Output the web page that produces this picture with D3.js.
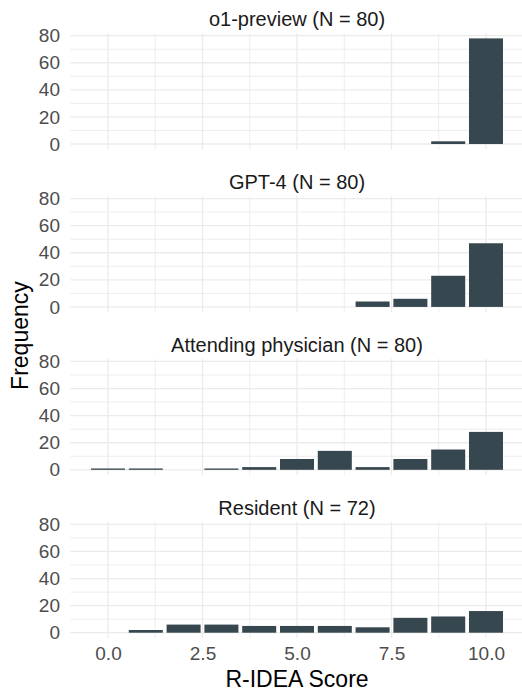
<!DOCTYPE html>
<html>
<head>
<meta charset="utf-8">
<script src="https://cdn.jsdelivr.net/npm/d3@7"></script>
<style>
  body { margin: 0; background: #fff; }
  text { font-family: "Liberation Sans", Arial, Helvetica, sans-serif; }
</style>
</head>
<body>
<div id="chart"></div>
<script>
// DATA
var scores = [0, 1, 2, 3, 4, 5, 6, 7, 8, 9, 10];
var panelTitles = ["o1-preview (N = 80)", "GPT-4 (N = 80)", "Attending physician (N = 80)", "Resident (N = 72)"];
var o1Counts = [0, 0, 0, 0, 0, 0, 0, 0, 0, 2, 78];
var gpt4Counts = [0, 0, 0, 0, 0, 0, 0, 4, 6, 23, 47];
var attendingCounts = [1, 1, 0, 1, 2, 8, 14, 2, 8, 15, 28];
var residentCounts = [0, 2, 6, 6, 5, 5, 5, 4, 11, 12, 16];
var xTicks = [0, 2.5, 5, 7.5, 10];
var xMinor = [1.25, 3.75, 6.25, 8.75];
var yTicks = [0, 20, 40, 60, 80];
var yMinor = [10, 30, 50, 70];

var allCounts = [o1Counts, gpt4Counts, attendingCounts, residentCounts];

// LAYOUT
var w = 522;
var h = 692;
var panelLeft = 70.4;
var panelRight = 523.6;
var firstTop = 33.1;
var panelH = 116.2;
var panelStep = 162.9;
var barColor = "#37474F";
var gridColor = "#EBEBEB";

var svg = d3.select("#chart").append("svg").attr("width", w).attr("height", h);

// SCALES (ggplot style: bar width 0.9, 5% expansion)
var xMin = -0.45, xMax = 10.45;
var xPad = (xMax - xMin) * 0.05;
var xScale = d3.scaleLinear()
  .domain([xMin - xPad, xMax + xPad])
  .range([panelLeft, panelRight]);

var yMax = d3.max(allCounts, function (c) { return d3.max(c); });
var yPad = yMax * 0.05;

allCounts.forEach(function (counts, i) {
  var top = firstTop + i * panelStep;
  var yScale = d3.scaleLinear()
    .domain([-yPad, yMax + yPad])
    .range([top + panelH, top]);

  var g = svg.append("g");

  // minor grid
  g.selectAll(".ymin").data(yMinor).enter().append("line")
    .attr("x1", panelLeft).attr("x2", panelRight)
    .attr("y1", function (d) { return yScale(d); })
    .attr("y2", function (d) { return yScale(d); })
    .attr("stroke", gridColor).attr("stroke-width", 0.9);
  g.selectAll(".xmin").data(xMinor).enter().append("line")
    .attr("y1", top).attr("y2", top + panelH)
    .attr("x1", function (d) { return xScale(d); })
    .attr("x2", function (d) { return xScale(d); })
    .attr("stroke", gridColor).attr("stroke-width", 0.9);

  // major grid
  g.selectAll(".ymaj").data(yTicks).enter().append("line")
    .attr("x1", panelLeft).attr("x2", panelRight)
    .attr("y1", function (d) { return yScale(d); })
    .attr("y2", function (d) { return yScale(d); })
    .attr("stroke", gridColor).attr("stroke-width", 1.3);
  g.selectAll(".xmaj").data(xTicks).enter().append("line")
    .attr("y1", top).attr("y2", top + panelH)
    .attr("x1", function (d) { return xScale(d); })
    .attr("x2", function (d) { return xScale(d); })
    .attr("stroke", gridColor).attr("stroke-width", 1.3);

  // bars
  var bars = scores.map(function (s, j) { return { score: s, n: counts[j] }; })
    .filter(function (d) { return d.n > 0; });
  g.selectAll("rect").data(bars).enter().append("rect")
    .attr("x", function (d) { return xScale(d.score - 0.45); })
    .attr("width", function (d) { return xScale(d.score + 0.45) - xScale(d.score - 0.45); })
    .attr("y", function (d) { return yScale(d.n); })
    .attr("height", function (d) { return yScale(0) - yScale(d.n); })
    .attr("fill", barColor);

  // y axis labels
  var yAxis = d3.axisLeft(yScale).tickValues(yTicks).tickSize(0).tickPadding(0);
  var ya = g.append("g")
    .attr("transform", "translate(" + 60 + ",0)")
    .call(yAxis);
  ya.select(".domain").remove();
  ya.selectAll("text")
    .attr("font-size", "19px")
    .attr("font-family", "'Liberation Sans', Arial, sans-serif")
    .attr("fill", "#4D4D4D");

  // strip title
  g.append("text")
    .attr("x", (panelLeft + panelRight) / 2)
    .attr("y", top - 7)
    .attr("text-anchor", "middle")
    .attr("font-size", "20px")
    .attr("fill", "#1A1A1A")
    .text(panelTitles[i]);

  // x axis only on the bottom panel
  if (i === allCounts.length - 1) {
    var xAxis = d3.axisBottom(xScale).tickValues(xTicks).tickSize(0).tickPadding(0)
      .tickFormat(d3.format(".1f"));
    var xa = g.append("g")
      .attr("transform", "translate(0," + (top + panelH + 8) + ")")
      .call(xAxis);
    xa.select(".domain").remove();
    xa.selectAll("text")
      .attr("font-size", "19px")
      .attr("font-family", "'Liberation Sans', Arial, sans-serif")
      .attr("fill", "#4D4D4D");
  }
});

// axis titles
svg.append("text")
  .attr("x", (panelLeft + panelRight) / 2)
  .attr("y", 687)
  .attr("text-anchor", "middle")
  .attr("font-size", "23px")
  .attr("fill", "#000")
  .text("R-IDEA Score");

svg.append("text")
  .attr("transform", "translate(28," + (firstTop + (3 * panelStep + panelH) / 2) + ") rotate(-90)")
  .attr("text-anchor", "middle")
  .attr("font-size", "23px")
  .attr("fill", "#000")
  .text("Frequency");
</script>
</body>
</html>
